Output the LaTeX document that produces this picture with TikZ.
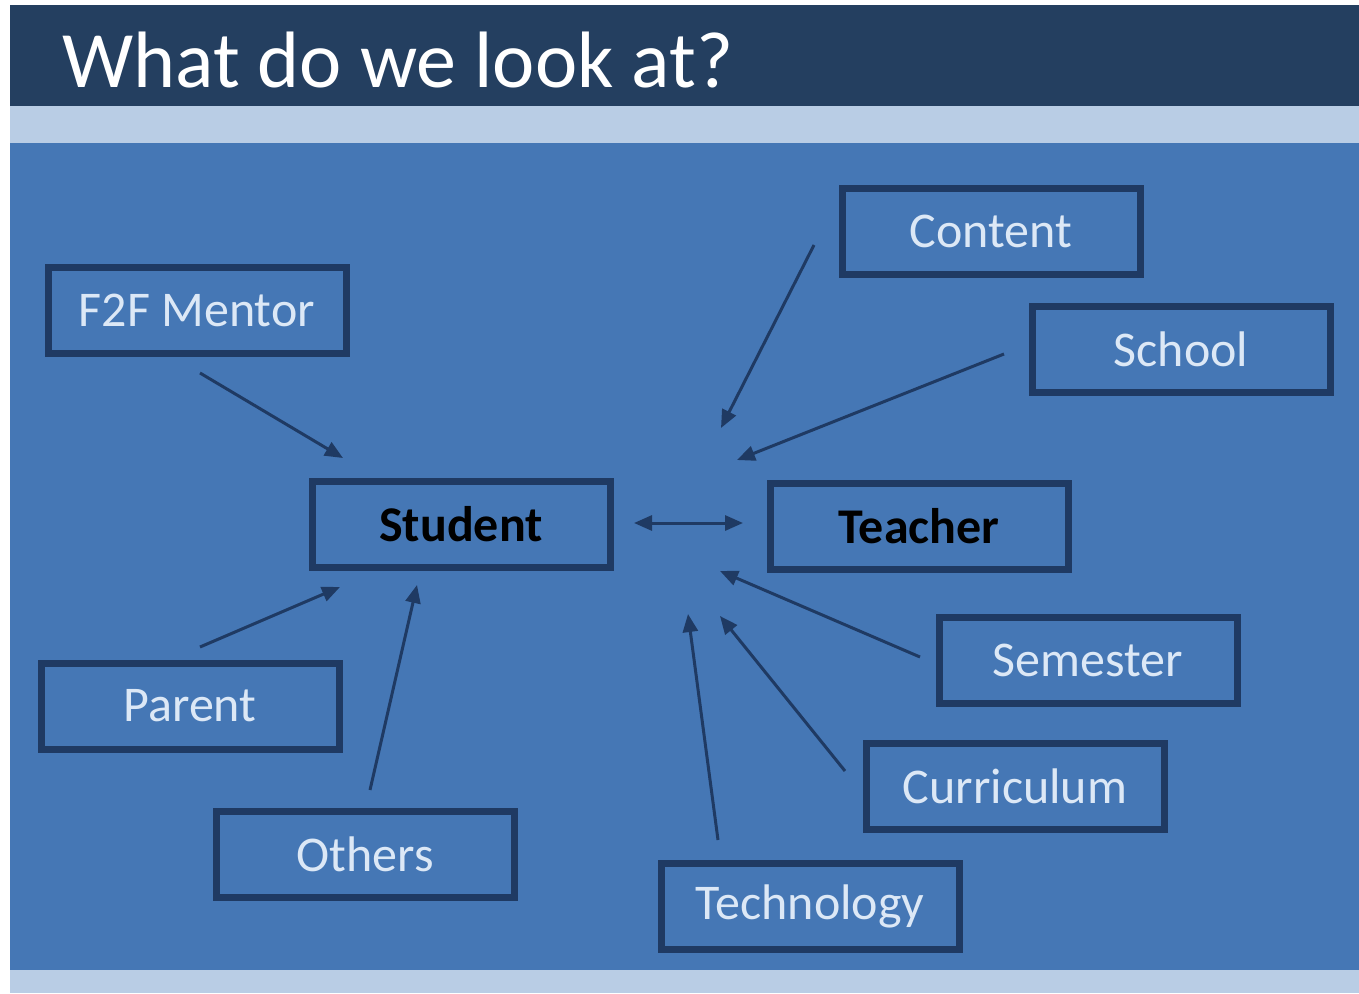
\documentclass[tikz,border=0pt]{standalone}
\usepackage{fontspec}
\setmainfont{Carlito}
\usetikzlibrary{positioning,calc,arrows.meta}

\definecolor{titlenavy}{HTML}{243F60}
\definecolor{bandblue}{HTML}{B9CDE5}
\definecolor{bodyblue}{HTML}{4577B5}
\definecolor{edgenavy}{HTML}{1F3A63}
\definecolor{labeltext}{HTML}{DCE8F6}

\begin{document}
\begin{tikzpicture}[x=1pt,y=-1pt]
	\tikzstyle{topic}=[draw=edgenavy, line width=7pt, rectangle, minimum width=298pt, minimum height=86pt, text=labeltext, font=\fontsize{50}{60}\selectfont];
	\tikzstyle{core}=[topic, text=black, font=\fontsize{50}{60}\selectfont\bfseries];
	\tikzstyle{link}=[draw=edgenavy, line width=3pt, -{Triangle[length=18pt,width=15pt]}];
	
	% slide background
	\useasboundingbox (0,0) rectangle (1359,993);
	\fill[white] (0,0) rectangle (1359,993);
	\fill[titlenavy] (10,5) rectangle (1359,106);
	\fill[bandblue] (10,106) rectangle (1359,143);
	\fill[bodyblue] (10,143) rectangle (1359,970);
	\fill[bandblue] (10,970) rectangle (1359,993);
	\node[anchor=base west, inner sep=0pt, text=white, font=\fontsize{80}{96}\selectfont] (title) at (62,87) {What do we look at?};
	
	% boxes
	\node[core] (student) at (461,524) {Student};
	\node[core] (teacher) at (919,526) {Teacher};
	\node[topic] (mentor) at (197,310) {F2F Mentor};
	\node[topic] (parent) at (190,706) {Parent};
	\node[topic] (others) at (365,854) {Others};
	\node[topic] (content) at (991,231) {Content};
	\node[topic] (school) at (1181,349) {School};
	\node[topic] (semester) at (1088,660) {Semester};
	\node[topic] (curriculum) at (1015,786) {Curriculum};
	\node[topic] (technology) at (810,906) {Technology};
	
	% arrow ends
	\coordinate (mentor_a) at (200,373);
	\coordinate (mentor_b) at (343,458);
	\coordinate (parent_a) at (200,647);
	\coordinate (parent_b) at (340,587);
	\coordinate (others_a) at (370,790);
	\coordinate (others_b) at (417,585);
	\coordinate (link_a) at (634,523);
	\coordinate (link_b) at (743,523);
	\coordinate (content_a) at (814,245);
	\coordinate (content_b) at (721,428);
	\coordinate (school_a) at (1004,354);
	\coordinate (school_b) at (737,460);
	\coordinate (semester_a) at (920,657);
	\coordinate (semester_b) at (720,571);
	\coordinate (curriculum_a) at (845,771);
	\coordinate (curriculum_b) at (720,616);
	\coordinate (technology_a) at (718,840);
	\coordinate (technology_b) at (688,614);
	
	\draw[link] (mentor_a) -- (mentor_b);
	\draw[link] (parent_a) -- (parent_b);
	\draw[link] (others_a) -- (others_b);
	\draw[link, {Triangle[length=18pt,width=15pt]}-{Triangle[length=18pt,width=15pt]}] (link_a) -- (link_b);
	\draw[link] (content_a) -- (content_b);
	\draw[link] (school_a) -- (school_b);
	\draw[link] (semester_a) -- (semester_b);
	\draw[link] (curriculum_a) -- (curriculum_b);
	\draw[link] (technology_a) -- (technology_b);
	
\end{tikzpicture}
\end{document}
